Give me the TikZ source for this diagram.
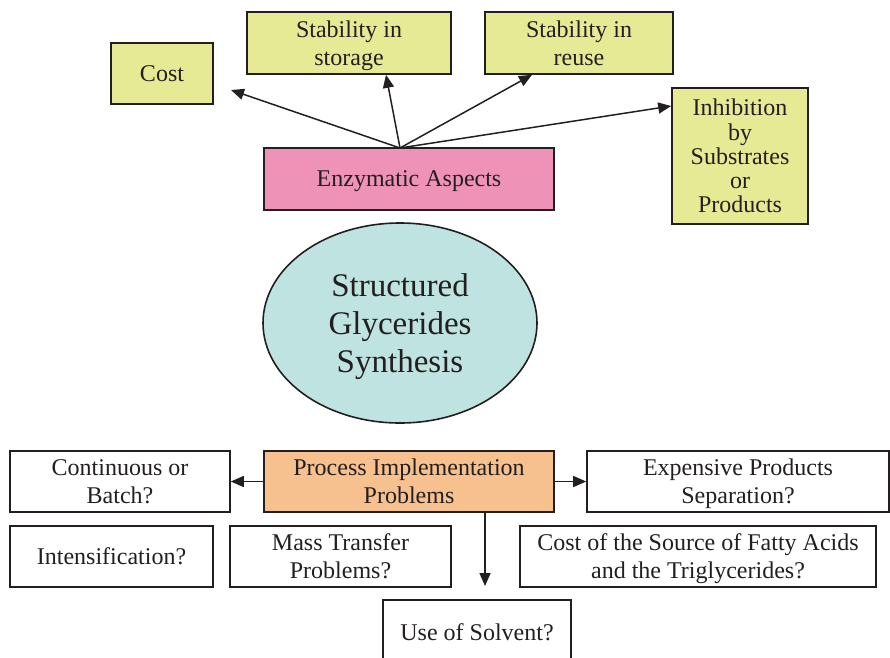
\documentclass[tikz,border=0pt]{standalone}
\usepackage{fontspec}
\setmainfont{Liberation Serif}
\usetikzlibrary{shapes.geometric,arrows.meta}
\definecolor{ink}{HTML}{231F20}
\definecolor{aspectfill}{HTML}{E6EA94}
\definecolor{enzfill}{HTML}{EF92B7}
\definecolor{corefill}{HTML}{BEE3E1}
\definecolor{procfill}{HTML}{F6C08F}
\tikzset{
  box/.style={draw=ink, line width=1.6pt, text=ink, align=center, inner sep=0pt,
    text depth=0pt, font=\fontsize{24}{28}\selectfont},
  aspect/.style={box, fill=aspectfill},
  question/.style={box, fill=white},
  arr/.style={draw=ink, line width=1.5pt, -{Triangle[length=13pt,width=11pt]}},
}
\begin{document}
\begin{tikzpicture}[x=1pt,y=-1pt]
\useasboundingbox (0,0) rectangle (890,657);

% enzymatic branch
\node[aspect, minimum width=102pt, minimum height=61pt] (cost) at (162,73.5) {Cost};
\node[aspect, minimum width=204pt, minimum height=62pt] (stor) at (349,43) {Stability in\\storage};
\node[aspect, minimum width=188pt, minimum height=62pt] (reuse) at (579,43) {Stability in\\reuse};
\node[aspect, minimum width=136pt, minimum height=136pt, font=\fontsize{24}{24.3}\selectfont] (inhib) at (740,156)
  {Inhibition\\by\\Substrates\\or\\Products};
\node[box, fill=enzfill, minimum width=290pt, minimum height=62pt] (enz) at (409,179) {Enzymatic Aspects};

% central topic
\node[draw=ink, line width=1.6pt, fill=corefill, ellipse, minimum width=274pt, minimum height=200pt,
  inner sep=0pt, align=center, text=ink, text depth=0pt, font=\fontsize{33}{38}\selectfont] (core) at (400,323)
  {Structured\\Glycerides\\Synthesis};

% process branch
\node[box, fill=procfill, minimum width=290pt, minimum height=61pt] (proc) at (409,481.5) {Process Implementation\\Problems};
\node[question, minimum width=220pt, minimum height=61pt] (cont) at (120,481.5) {Continuous or\\Batch?};
\node[question, minimum width=302pt, minimum height=61pt] (exp) at (738,481.5) {Expensive Products\\Separation?};
\node[question, minimum width=203pt, minimum height=61pt] (inten) at (111.5,556.5) {Intensification?};
\node[question, minimum width=221pt, minimum height=61pt] (mass) at (340.5,556.5) {Mass Transfer\\Problems?};
\node[question, minimum width=356pt, minimum height=61pt] (src) at (698,556.5) {Cost of the Source of Fatty Acids\\and the Triglycerides?};
\node[question, minimum width=188pt, minimum height=64pt] (solv) at (477,632) {Use of Solvent?};

% connectors
\coordinate (hub) at (400,148);
\coordinate (costtip) at (231,90);
\coordinate (downtip) at (485,586);
\draw[arr] (hub) -- (costtip);
\draw[arr] (hub) -- ([xshift=37pt]stor.south);
\draw[arr] (hub) -- ([xshift=-47pt]reuse.south);
\draw[arr] (hub) -- ([yshift=50pt]inhib.west);
\draw[arr] (proc.west) -- (cont.east);
\draw[arr] (proc.east) -- (exp.west);
\draw[arr] ([xshift=76pt]proc.south) -- (downtip);
\end{tikzpicture}
\end{document}
